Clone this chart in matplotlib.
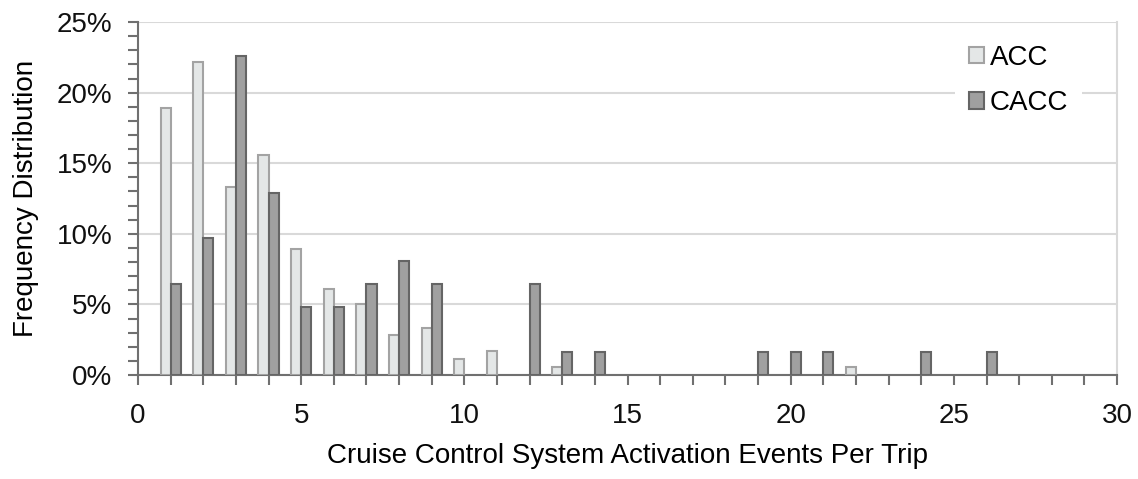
import numpy as np
import matplotlib
matplotlib.use('Agg')
import matplotlib.pyplot as plt
from matplotlib.ticker import MultipleLocator, FuncFormatter

plt.rcParams['font.family'] = ['Liberation Sans', 'DejaVu Sans']

# frequency distribution (%) per number of activation events
acc_x = [1, 2, 3, 4, 5, 6, 7, 8, 9, 10, 11, 13, 22]
acc_y = [18.9, 22.2, 13.3, 15.6, 8.9, 6.1, 5.0, 2.8, 3.35, 1.13, 1.7, 0.58, 0.58]
cacc_x = [1, 2, 3, 4, 5, 6, 7, 8, 9, 12, 13, 14, 19, 20, 21, 24, 26]
cacc_y = [6.45, 9.68, 22.58, 12.9, 4.84, 4.84, 6.45, 8.06, 6.45, 6.45,
          1.61, 1.61, 1.61, 1.61, 1.61, 1.61, 1.61]

fs = 20

fig = plt.figure(figsize=(11.38, 4.79), dpi=100)
ax = fig.add_axes([0.1213, 0.2171, 0.8603, 0.7369])

w = 0.31
ax.bar(np.array(acc_x) - w / 2, acc_y, width=w, color='#e4e7e7',
       edgecolor='#a3a3a3', linewidth=1.5, label='ACC', zorder=3)
ax.bar(np.array(cacc_x) + w / 2, cacc_y, width=w, color='#a0a0a0',
       edgecolor='#656565', linewidth=1.5, label='CACC', zorder=3)

ax.set_xlim(0, 30)
ax.set_ylim(0, 25)
ax.xaxis.set_major_locator(MultipleLocator(5))
ax.xaxis.set_minor_locator(MultipleLocator(1))
ax.yaxis.set_major_locator(MultipleLocator(5))
ax.yaxis.set_minor_locator(MultipleLocator(1))
ax.yaxis.set_major_formatter(FuncFormatter(lambda v, p: f'{v:.0f}%'))

ax.grid(axis='y', which='major', color='#d9d9d9', linewidth=1.5, zorder=0)
for s in ['left', 'bottom']:
    ax.spines[s].set_color('#707070')
    ax.spines[s].set_linewidth(1.5)
ax.spines['top'].set_visible(False)
ax.spines['right'].set_color('#d9d9d9')
ax.spines['right'].set_linewidth(1.5)

ax.tick_params(axis='both', which='both', direction='out', length=7,
               width=1.5, color='#707070', labelsize=fs, labelcolor='#111111')
ax.tick_params(axis='x', which='major', pad=13)
ax.tick_params(axis='y', which='major', pad=11.5)

ax.set_xlabel('Cruise Control System Activation Events Per Trip', fontsize=fs,
              labelpad=10)
ax.set_ylabel('Frequency Distribution', fontsize=fs, labelpad=13)

leg = ax.legend(loc='upper right', bbox_to_anchor=(0.9508, 0.9353),
                bbox_transform=fig.transFigure, frameon=True, fancybox=False,
                fontsize=fs, handlelength=0.55, handleheight=0.55,
                handletextpad=0.2, labelspacing=0.7, borderpad=0.5,
                borderaxespad=0)
leg.get_frame().set_edgecolor('none')
leg.get_frame().set_facecolor('white')
leg.get_frame().set_alpha(1)

fig.savefig('out.png', dpi=100)
